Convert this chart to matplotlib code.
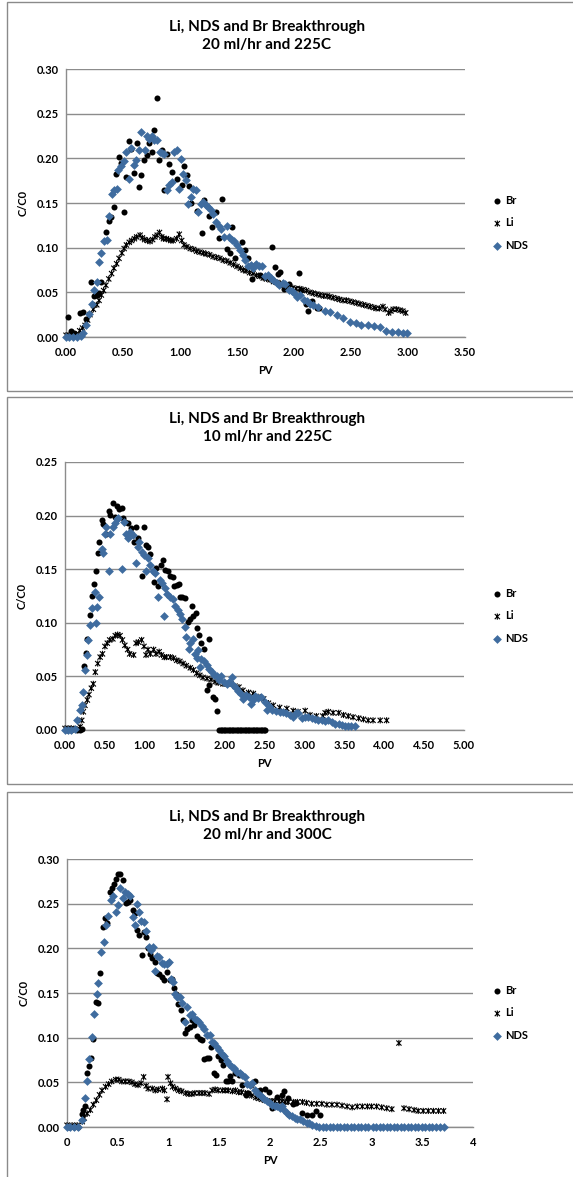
import matplotlib
matplotlib.use("Agg")
import numpy as np
from matplotlib import pyplot as plt
from matplotlib.path import Path
from matplotlib.patches import Rectangle
from matplotlib.ticker import FormatStrFormatter, FuncFormatter

# ---- panel 1: 20 ml/hr and 225C ----
br1_pv = [0.02, 0.044, 0.07, 0.09, 0.12, 0.146, 0.175, 0.216, 0.245, 0.27, 0.287, 0.307, 0.35, 0.38,
          0.392, 0.418, 0.44, 0.462, 0.48, 0.506, 0.526, 0.55, 0.567, 0.596, 0.62, 0.64, 0.66, 0.687,
          0.71, 0.73, 0.754, 0.775, 0.795, 0.82, 0.84, 0.86, 0.883, 0.904, 0.927, 0.97, 1.015, 1.035,
          1.064, 1.08, 1.10, 1.146, 1.19, 1.21, 1.257, 1.28, 1.32, 1.342, 1.368, 1.415, 1.44, 1.46,
          1.48, 1.547, 1.573, 1.60, 1.635, 1.66, 1.70, 1.81, 1.83, 1.857, 1.88, 1.91, 1.96, 2.04, 2.06,
          2.105, 2.127, 2.16, 2.20, 2.22]
br1_c = [0.022, 0.007, 0.004, 0.002, 0.027, 0.028, 0.020, 0.062, 0.046, 0.047, 0.049, 0.062, 0.118,
         0.130, 0.134, 0.146, 0.183, 0.202, 0.195, 0.140, 0.179, 0.219, 0.210, 0.184, 0.217, 0.168,
         0.181, 0.198, 0.204, 0.217, 0.207, 0.232, 0.267, 0.198, 0.209, 0.165, 0.205, 0.194, 0.185,
         0.177, 0.170, 0.191, 0.181, 0.169, 0.150, 0.141, 0.116, 0.153, 0.135, 0.123, 0.140, 0.111,
         0.154, 0.098, 0.094, 0.123, 0.088, 0.106, 0.097, 0.088, 0.065, 0.081, 0.069, 0.101, 0.078,
         0.071, 0.073, 0.054, 0.059, 0.072, 0.053, 0.037, 0.029, 0.040, 0.032, 0.032]
li1_pv = [0.0, 0.03, 0.06, 0.09, 0.12, 0.145, 0.167, 0.19, 0.21, 0.24, 0.27, 0.29, 0.31, 0.33, 0.35,
          0.375, 0.40, 0.42, 0.444, 0.465, 0.49, 0.51, 0.53, 0.555, 0.576, 0.60, 0.62, 0.65, 0.67, 0.69,
          0.715, 0.737, 0.76, 0.78, 0.80, 0.82, 0.84, 0.855, 0.88, 0.90, 0.92, 0.94, 0.97, 0.994, 1.015,
          1.035, 1.06, 1.09, 1.12, 1.146, 1.175, 1.205, 1.23, 1.26, 1.29, 1.32, 1.35, 1.38, 1.41, 1.44,
          1.47, 1.50, 1.53, 1.555, 1.58, 1.61, 1.64, 1.67, 1.70, 1.73, 1.76, 1.79, 1.82, 1.85, 1.88,
          1.91, 1.935, 1.96, 1.99, 2.02, 2.05, 2.08, 2.11, 2.14, 2.17, 2.20, 2.23, 2.26, 2.29, 2.315,
          2.345, 2.375, 2.40, 2.43, 2.46, 2.49, 2.52, 2.55, 2.58, 2.61, 2.64, 2.67, 2.70, 2.72, 2.75,
          2.78, 2.80, 2.83, 2.85, 2.87, 2.90, 2.93, 2.955, 2.98]
li1_c = [0.002, 0.002, 0.002, 0.003, 0.007, 0.010, 0.013, 0.019, 0.025, 0.031, 0.036, 0.041, 0.047,
         0.052, 0.058, 0.065, 0.071, 0.077, 0.082, 0.088, 0.094, 0.099, 0.103, 0.106, 0.108, 0.110,
         0.112, 0.114, 0.111, 0.109, 0.108, 0.107, 0.109, 0.112, 0.114, 0.117, 0.112, 0.110, 0.110,
         0.109, 0.108, 0.108, 0.110, 0.115, 0.108, 0.103, 0.101, 0.099, 0.098, 0.096, 0.095, 0.094,
         0.093, 0.092, 0.090, 0.089, 0.088, 0.086, 0.085, 0.083, 0.081, 0.079, 0.077, 0.075, 0.074,
         0.072, 0.071, 0.069, 0.068, 0.066, 0.065, 0.064, 0.062, 0.061, 0.060, 0.058, 0.057, 0.056,
         0.055, 0.054, 0.054, 0.053, 0.052, 0.050, 0.049, 0.048, 0.047, 0.046, 0.046, 0.045, 0.044,
         0.043, 0.042, 0.041, 0.041, 0.040, 0.039, 0.038, 0.037, 0.036, 0.035, 0.034, 0.033, 0.032,
         0.032, 0.034, 0.031, 0.027, 0.029, 0.031, 0.031, 0.030, 0.029, 0.027]
nds1_pv = [0.0, 0.03, 0.06, 0.10, 0.13, 0.15, 0.175, 0.20, 0.225, 0.245, 0.27, 0.287, 0.31, 0.335, 0.357,
           0.377, 0.40, 0.42, 0.444, 0.46, 0.48, 0.51, 0.526, 0.55, 0.57, 0.596, 0.614, 0.64, 0.66, 0.69,
           0.708, 0.73, 0.754, 0.775, 0.795, 0.825, 0.845, 0.863, 0.883, 0.904, 0.927, 0.947, 0.97,
           0.99, 1.01, 1.03, 1.05, 1.073, 1.094, 1.117, 1.137, 1.16, 1.18, 1.20, 1.225, 1.248, 1.27,
           1.29, 1.32, 1.34, 1.36, 1.386, 1.41, 1.43, 1.453, 1.476, 1.50, 1.526, 1.55, 1.57, 1.596,
           1.62, 1.64, 1.67, 1.695, 1.72, 1.746, 1.77, 1.794, 1.82, 1.85, 1.87, 1.90, 1.925, 1.955,
           1.98, 2.00, 2.03, 2.055, 2.085, 2.11, 2.14, 2.17, 2.21, 2.27, 2.32, 2.38, 2.43, 2.49, 2.54,
           2.59, 2.65, 2.70, 2.75, 2.81, 2.86, 2.91, 2.96, 2.99]
nds1_c = [0.0, 0.0, 0.0, 0.0, 0.001, 0.004, 0.013, 0.026, 0.037, 0.053, 0.062, 0.084, 0.094, 0.107,
          0.109, 0.135, 0.160, 0.165, 0.166, 0.187, 0.191, 0.197, 0.207, 0.177, 0.212, 0.193, 0.198,
          0.209, 0.229, 0.209, 0.225, 0.222, 0.225, 0.221, 0.220, 0.207, 0.206, 0.205, 0.164, 0.170,
          0.174, 0.207, 0.209, 0.166, 0.199, 0.183, 0.176, 0.149, 0.157, 0.166, 0.165, 0.140, 0.149,
          0.151, 0.148, 0.146, 0.142, 0.138, 0.129, 0.124, 0.121, 0.112, 0.124, 0.112, 0.109, 0.107,
          0.103, 0.097, 0.092, 0.086, 0.079, 0.081, 0.077, 0.082, 0.079, 0.079, 0.068, 0.069, 0.066,
          0.064, 0.060, 0.058, 0.061, 0.059, 0.053, 0.051, 0.049, 0.045, 0.047, 0.041, 0.040, 0.037,
          0.036, 0.034, 0.029, 0.028, 0.025, 0.021, 0.017, 0.016, 0.013, 0.013, 0.012, 0.011, 0.007,
          0.006, 0.006, 0.005, 0.004]

# ---- panel 2: 10 ml/hr and 225C ----
br2_pv = [0.02, 0.08, 0.15, 0.19, 0.21, 0.24, 0.26, 0.28, 0.31, 0.34, 0.36, 0.39, 0.41, 0.43, 0.46,
          0.48, 0.51, 0.55, 0.56, 0.60, 0.63, 0.65, 0.68, 0.71, 0.73, 0.75, 0.79, 0.83, 0.86, 0.89,
          0.92, 0.96, 0.99, 1.02, 1.04, 1.07, 1.11, 1.14, 1.17, 1.20, 1.23, 1.25, 1.29, 1.32, 1.35,
          1.37, 1.40, 1.43, 1.44, 1.47, 1.50, 1.54, 1.57, 1.59, 1.61, 1.64, 1.66, 1.68, 1.71, 1.74,
          1.78, 1.80, 1.81, 1.86, 1.88, 1.91,
          1.93, 1.95, 1.97, 1.99, 2.01, 2.03, 2.05, 2.07, 2.09, 2.11, 2.13, 2.15, 2.17, 2.19, 2.21,
          2.23, 2.25, 2.27, 2.29, 2.31, 2.33, 2.35, 2.37, 2.39, 2.41, 2.43, 2.45, 2.47, 2.49, 2.51]
br2_c = [0.0, 0.0, 0.0, 0.0, 0.001, 0.060, 0.072, 0.085, 0.107, 0.125, 0.136, 0.148, 0.165, 0.175,
         0.196, 0.192, 0.183, 0.204, 0.201, 0.212, 0.199, 0.209, 0.206, 0.207, 0.198, 0.194, 0.193,
         0.188, 0.175, 0.189, 0.179, 0.144, 0.189, 0.173, 0.171, 0.164, 0.138, 0.151, 0.134, 0.154,
         0.159, 0.149, 0.148, 0.144, 0.143, 0.134, 0.135, 0.136, 0.124, 0.124, 0.123, 0.101, 0.104,
         0.116, 0.106, 0.109, 0.095, 0.089, 0.081, 0.076, 0.037, 0.042, 0.085, 0.031, 0.029, 0.018,
         0.0, 0.0, 0.0, 0.0, 0.0, 0.0, 0.0, 0.0, 0.0, 0.0, 0.0, 0.0, 0.0, 0.0, 0.0,
         0.0, 0.0, 0.0, 0.0, 0.0, 0.0, 0.0, 0.0, 0.0, 0.0, 0.0, 0.0, 0.0, 0.0, 0.0]
li2_pv = [0.0, 0.04, 0.08, 0.12, 0.15, 0.19, 0.21, 0.23, 0.25, 0.28, 0.30, 0.33, 0.355, 0.38, 0.41,
          0.44, 0.47, 0.50, 0.53, 0.56, 0.60, 0.63, 0.66, 0.69, 0.72, 0.75, 0.785, 0.81, 0.86, 0.89,
          0.92, 0.96, 0.99, 1.015, 1.04, 1.07, 1.11, 1.14, 1.18, 1.21, 1.245, 1.27, 1.32, 1.36, 1.40,
          1.44, 1.48, 1.52, 1.57, 1.61, 1.65, 1.69, 1.73, 1.78, 1.83, 1.88, 1.92, 1.98, 2.03, 2.08,
          2.13, 2.18, 2.23, 2.30, 2.36, 2.42, 2.49, 2.55, 2.61, 2.69, 2.78, 2.86, 2.92, 3.01, 3.07,
          3.15, 3.23, 3.26, 3.30, 3.36, 3.43, 3.49, 3.55, 3.61, 3.68, 3.74, 3.80, 3.86, 3.95, 4.03]
li2_c = [0.0015, 0.0015, 0.0015, 0.001, 0.0006, 0.003, 0.009, 0.017, 0.023, 0.028, 0.033, 0.039,
         0.043, 0.054, 0.062, 0.068, 0.071, 0.078, 0.081, 0.084, 0.085, 0.088, 0.089, 0.088, 0.084,
         0.079, 0.075, 0.071, 0.070, 0.081, 0.082, 0.084, 0.078, 0.070, 0.075, 0.071, 0.075, 0.071,
         0.073, 0.070, 0.068, 0.068, 0.068, 0.067, 0.065, 0.064, 0.062, 0.060, 0.058, 0.056, 0.053,
         0.051, 0.049, 0.048, 0.047, 0.045, 0.044, 0.043, 0.043, 0.043, 0.041, 0.040, 0.037, 0.035,
         0.034, 0.031, 0.029, 0.025, 0.023, 0.021, 0.020, 0.018, 0.017, 0.018, 0.014, 0.013, 0.013,
         0.016, 0.017, 0.016, 0.016, 0.014, 0.013, 0.012, 0.011, 0.010, 0.009, 0.009, 0.009, 0.009]
nds2_pv = [0.0, 0.04, 0.08, 0.13, 0.155, 0.19, 0.21, 0.23, 0.25, 0.27, 0.29, 0.31, 0.34, 0.37, 0.39,
           0.405, 0.43, 0.46, 0.48, 0.50, 0.52, 0.55, 0.57, 0.60, 0.63, 0.65, 0.67, 0.71, 0.74, 0.76,
           0.79, 0.82, 0.85, 0.89, 0.91, 0.93, 0.96, 0.99, 1.015, 1.04, 1.07, 1.10, 1.13, 1.16, 1.19,
           1.21, 1.24, 1.25, 1.28, 1.32, 1.35, 1.38, 1.41, 1.44, 1.47, 1.50, 1.52, 1.55, 1.57, 1.60,
           1.63, 1.65, 1.67, 1.69, 1.71, 1.74, 1.78, 1.81, 1.84, 1.87, 1.90, 1.93, 1.96, 1.99, 2.03,
           2.06, 2.09, 2.11, 2.14, 2.17, 2.20, 2.23, 2.27, 2.30, 2.33, 2.35, 2.38, 2.42, 2.46, 2.50,
           2.53, 2.56, 2.60, 2.64, 2.69, 2.73, 2.77, 2.82, 2.86, 2.89, 2.92, 2.97, 3.01, 3.05, 3.09,
           3.13, 3.17, 3.22, 3.26, 3.30, 3.34, 3.38, 3.43, 3.47, 3.51, 3.55, 3.59, 3.63]
nds2_c = [0.0, 0.0, 0.0, 0.0006, 0.009, 0.019, 0.023, 0.035, 0.056, 0.070, 0.084, 0.098, 0.114,
          0.129, 0.100, 0.115, 0.124, 0.169, 0.165, 0.183, 0.189, 0.148, 0.183, 0.189, 0.193, 0.197,
          0.198, 0.150, 0.194, 0.183, 0.179, 0.185, 0.182, 0.156, 0.171, 0.175, 0.166, 0.163, 0.148,
          0.160, 0.154, 0.148, 0.146, 0.124, 0.140, 0.137, 0.106, 0.132, 0.127, 0.124, 0.122, 0.116,
          0.112, 0.108, 0.104, 0.096, 0.087, 0.076, 0.081, 0.085, 0.071, 0.067, 0.075, 0.059, 0.066,
          0.064, 0.061, 0.057, 0.054, 0.051, 0.050, 0.047, 0.050, 0.045, 0.043, 0.045, 0.049, 0.042,
          0.039, 0.036, 0.034, 0.029, 0.033, 0.031, 0.024, 0.028, 0.032, 0.030, 0.031, 0.026, 0.019,
          0.022, 0.019, 0.018, 0.017, 0.017, 0.016, 0.014, 0.012, 0.016, 0.016, 0.011, 0.012, 0.012,
          0.011, 0.010, 0.009, 0.009, 0.008, 0.009, 0.007, 0.006, 0.006, 0.005, 0.004, 0.004, 0.004,
          0.004]

# ---- panel 3: 20 ml/hr and 300C ----
br3_pv = [0.02, 0.07, 0.11, 0.15, 0.16, 0.18, 0.20, 0.22, 0.24, 0.26, 0.29, 0.31, 0.33, 0.35, 0.37,
          0.39, 0.42, 0.44, 0.46, 0.48, 0.50, 0.525, 0.55, 0.58, 0.60, 0.62, 0.65, 0.67, 0.69, 0.71,
          0.74, 0.76, 0.78, 0.80, 0.82, 0.84, 0.87, 0.89, 0.91, 0.94, 0.96, 0.985, 1.01, 1.03, 1.05,
          1.07, 1.09, 1.12, 1.14, 1.16, 1.18, 1.21, 1.23, 1.25, 1.28, 1.31, 1.33, 1.35, 1.38, 1.40,
          1.42, 1.45, 1.47, 1.49, 1.52, 1.54, 1.57, 1.59, 1.61, 1.63, 1.66, 1.69, 1.72, 1.76, 1.78,
          1.81, 1.85, 1.87, 1.90, 1.95, 1.99, 2.02, 2.07, 2.12, 2.14, 2.18, 2.23, 2.26, 2.32, 2.36,
          2.41, 2.45, 2.49]
br3_c = [0.0, 0.0, 0.0, 0.015, 0.019, 0.023, 0.061, 0.068, 0.077, 0.099, 0.140, 0.139, 0.172, 0.224,
         0.234, 0.228, 0.263, 0.268, 0.272, 0.278, 0.283, 0.283, 0.277, 0.251, 0.252, 0.254, 0.243,
         0.240, 0.220, 0.215, 0.192, 0.218, 0.213, 0.200, 0.194, 0.189, 0.185, 0.172, 0.171, 0.168,
         0.165, 0.174, 0.164, 0.166, 0.156, 0.149, 0.138, 0.131, 0.120, 0.105, 0.110, 0.112, 0.120,
         0.114, 0.102, 0.099, 0.097, 0.076, 0.077, 0.077, 0.090, 0.060, 0.058, 0.079, 0.075, 0.069,
         0.051, 0.052, 0.057, 0.052, 0.061, 0.058, 0.047, 0.036, 0.038, 0.047, 0.051, 0.040, 0.041,
         0.042, 0.039, 0.021, 0.034, 0.036, 0.040, 0.032, 0.026, 0.027, 0.016, 0.013, 0.013, 0.018,
         0.013]
li3_pv = [0.0, 0.05, 0.10, 0.15, 0.17, 0.20, 0.23, 0.26, 0.29, 0.32, 0.345, 0.38, 0.41, 0.44, 0.48,
          0.51, 0.54, 0.575, 0.61, 0.64, 0.67, 0.70, 0.73, 0.755, 0.78, 0.80, 0.84, 0.87, 0.90, 0.94,
          0.96, 0.985, 0.995, 1.02, 1.04, 1.07, 1.10, 1.13, 1.17, 1.20, 1.23, 1.26, 1.30, 1.33, 1.36,
          1.40, 1.43, 1.46, 1.49, 1.53, 1.56, 1.59, 1.63, 1.66, 1.69, 1.72, 1.76, 1.79, 1.82, 1.86,
          1.89, 1.92, 1.95, 1.99, 2.02, 2.05, 2.09, 2.12, 2.15, 2.18, 2.23, 2.27, 2.32, 2.36, 2.41,
          2.46, 2.51, 2.56, 2.61, 2.66, 2.71, 2.76, 2.81, 2.86, 2.91, 2.96, 3.00, 3.05, 3.10, 3.15,
          3.20, 3.27, 3.32, 3.37, 3.42, 3.46, 3.51, 3.56, 3.61, 3.66, 3.71]
li3_c = [0.002, 0.002, 0.002, 0.006, 0.010, 0.015, 0.019, 0.025, 0.030, 0.036, 0.041, 0.045, 0.048,
         0.051, 0.053, 0.053, 0.051, 0.051, 0.051, 0.050, 0.048, 0.047, 0.049, 0.056, 0.046, 0.043,
         0.043, 0.041, 0.042, 0.043, 0.041, 0.031, 0.056, 0.049, 0.045, 0.043, 0.041, 0.040, 0.038,
         0.037, 0.037, 0.038, 0.038, 0.038, 0.038, 0.037, 0.041, 0.042, 0.041, 0.041, 0.041, 0.041,
         0.040, 0.041, 0.039, 0.039, 0.038, 0.037, 0.035, 0.033, 0.032, 0.031, 0.030, 0.029, 0.029,
         0.029, 0.029, 0.029, 0.028, 0.028, 0.028, 0.028, 0.028, 0.027, 0.026, 0.026, 0.026, 0.025,
         0.025, 0.025, 0.024, 0.023, 0.022, 0.023, 0.023, 0.023, 0.023, 0.023, 0.022, 0.021, 0.020,
         0.094, 0.021, 0.020, 0.019, 0.018, 0.018, 0.018, 0.018, 0.018, 0.018]
nds3_pv = [0.0, 0.03, 0.07, 0.11, 0.15, 0.18, 0.20, 0.22, 0.25, 0.27, 0.30, 0.31, 0.335, 0.36, 0.385,
           0.40, 0.43, 0.45, 0.48, 0.50, 0.525, 0.55, 0.575, 0.60, 0.62, 0.65, 0.67, 0.69, 0.71, 0.73,
           0.755, 0.78, 0.805, 0.83, 0.85, 0.87, 0.89, 0.91, 0.94, 0.96, 0.985, 1.00, 1.02, 1.04, 1.06,
           1.08, 1.11, 1.13, 1.16, 1.18, 1.21, 1.23, 1.26, 1.28, 1.30, 1.33, 1.35, 1.38, 1.41, 1.43,
           1.45, 1.48, 1.50, 1.53, 1.55, 1.58, 1.60, 1.63, 1.65, 1.67, 1.70, 1.72, 1.75, 1.77, 1.80,
           1.82, 1.85, 1.87, 1.90, 1.92, 1.94, 1.97, 2.00, 2.02, 2.05, 2.07, 2.10, 2.12, 2.14, 2.17,
           2.19, 2.22, 2.25, 2.27, 2.30, 2.33, 2.36, 2.38, 2.41, 2.45,
           2.48, 2.52, 2.55, 2.59, 2.62, 2.66, 2.69, 2.73, 2.76, 2.80, 2.83, 2.87, 2.90, 2.94, 2.97,
           3.01, 3.04, 3.08, 3.11, 3.15, 3.18, 3.22, 3.25, 3.29, 3.32, 3.36, 3.39, 3.43, 3.46, 3.50,
           3.53, 3.57, 3.60, 3.64, 3.67, 3.71]
nds3_c = [0.0, 0.0, 0.0, 0.0, 0.008, 0.032, 0.051, 0.076, 0.101, 0.127, 0.149, 0.161, 0.196, 0.207,
          0.226, 0.236, 0.254, 0.259, 0.241, 0.249, 0.267, 0.256, 0.263, 0.261, 0.259, 0.235, 0.226,
          0.250, 0.241, 0.231, 0.229, 0.219, 0.202, 0.198, 0.201, 0.175, 0.191, 0.190, 0.184, 0.183,
          0.183, 0.185, 0.166, 0.162, 0.149, 0.146, 0.146, 0.139, 0.118, 0.134, 0.125, 0.127, 0.121,
          0.120, 0.117, 0.113, 0.110, 0.103, 0.103, 0.095, 0.094, 0.090, 0.086, 0.082, 0.079, 0.074,
          0.071, 0.067, 0.066, 0.062, 0.060, 0.058, 0.056, 0.048, 0.047, 0.049, 0.041, 0.038, 0.036,
          0.034, 0.031, 0.029, 0.027, 0.025, 0.024, 0.023, 0.021, 0.023, 0.019, 0.016, 0.013, 0.012,
          0.010, 0.009, 0.009, 0.007, 0.005, 0.004, 0.002, 0.001,
          0.0, 0.0, 0.0, 0.0, 0.0, 0.0, 0.0, 0.0, 0.0, 0.0, 0.0, 0.0, 0.0, 0.0, 0.0,
          0.0, 0.0, 0.0, 0.0, 0.0, 0.0, 0.0, 0.0, 0.0, 0.0, 0.0, 0.0, 0.0, 0.0, 0.0,
          0.0, 0.0, 0.0, 0.0, 0.0, 0.0]

titles = ["Li, NDS and Br Breakthrough\n20 ml/hr and 225C",
          "Li, NDS and Br Breakthrough\n10 ml/hr and 225C",
          "Li, NDS and Br Breakthrough\n20 ml/hr and 300C"]
series_names = ["Br", "Li", "NDS"]

# Excel-like "star" marker: an X with a vertical bar through it
star = Path([(-1, -1), (1, 1), (-1, 1), (1, -1), (0, -1.2), (0, 1.2)],
            [Path.MOVETO, Path.LINETO, Path.MOVETO, Path.LINETO, Path.MOVETO, Path.LINETO])

W, H = 573, 1177
plt.rcParams["font.family"] = ["Lato", "DejaVu Sans"]
plt.rcParams["font.weight"] = "bold"
fig = plt.figure(figsize=(W / 100, H / 100), dpi=100, facecolor="white")

grid_col = "#8c8c8c"
blue = "#3f6c9f"

# frames around each chart, in pixels (left, top, right, bottom)
frames = [(7, 2, 580, 391), (7, 397, 580, 784), (7, 792, 580, 1185)]
for l, t, r, b in frames:
    fig.patches.append(Rectangle((l / W, 1 - b / H), (r - l) / W, (b - t) / H,
                                 transform=fig.transFigure, fill=False,
                                 edgecolor="#8a8a8a", linewidth=1.0))

# axes boxes in pixels (left, top, right, bottom)
boxes = [(66, 69, 465, 337), (65, 462, 464, 730), (67, 859, 473, 1127)]
title_y = [20, 412, 810]
xlims = [(0, 3.5), (0, 5.0), (0, 4.0)]
ylims = [(0, 0.30), (0, 0.25), (0, 0.30)]
legend_y = [223, 616, 1013]
data = [(br1_pv, br1_c, li1_pv, li1_c, nds1_pv, nds1_c),
        (br2_pv, br2_c, li2_pv, li2_c, nds2_pv, nds2_c),
        (br3_pv, br3_c, li3_pv, li3_c, nds3_pv, nds3_c)]

for i, (l, t, r, b) in enumerate(boxes):
    ax = fig.add_axes([l / W, 1 - b / H, (r - l) / W, (b - t) / H])
    brx, bry, lix, liy, ndx, ndy = data[i]
    h_br = ax.scatter(brx, bry, s=19, marker="o", color="black", linewidths=0, zorder=3, clip_on=False)
    h_li = ax.scatter(lix, liy, s=20, marker=star, facecolor="none", edgecolor="black",
                      linewidths=0.8, zorder=4, clip_on=False)
    h_nd = ax.scatter(ndx, ndy, s=20, marker="D", color=blue, linewidths=0, zorder=5, clip_on=False)

    ax.set_xlim(*xlims[i])
    ax.set_ylim(*ylims[i])
    ax.set_xticks(np.arange(xlims[i][0], xlims[i][1] + 0.01, 0.5))
    ax.set_yticks(np.arange(0, ylims[i][1] + 0.001, 0.05))
    ax.yaxis.set_major_formatter(FormatStrFormatter("%.2f"))
    if i < 2:
        ax.xaxis.set_major_formatter(FormatStrFormatter("%.2f"))
    else:
        ax.xaxis.set_major_formatter(FuncFormatter(lambda v, p: f"{v:g}"))
    ax.tick_params(length=0, labelsize=8, pad=5, colors="black")
    ax.tick_params(axis="x", pad=7)
    for lbl in ax.get_xticklabels() + ax.get_yticklabels():
        lbl.set_fontweight("bold")
    ax.grid(axis="y", color=grid_col, linewidth=1.0)
    ax.set_axisbelow(True)
    for side in ("top", "right"):
        ax.spines[side].set_visible(False)
    for side in ("left", "bottom"):
        ax.spines[side].set_color(grid_col)
        ax.spines[side].set_linewidth(1.0)
    ax.set_xlabel("PV", fontsize=8, fontweight="bold", labelpad=5)
    ax.set_ylabel("C/C0", fontsize=8, fontweight="bold", labelpad=6)

    fig.text(267 / W, 1 - title_y[i] / H, titles[i], ha="center", va="top",
             fontsize=11, fontweight="bold", linespacing=1.35)

    leg = ax.legend([h_br, h_li, h_nd], series_names, loc="center left",
                    bbox_to_anchor=(484 / W, 1 - legend_y[i] / H),
                    bbox_transform=fig.transFigure, frameon=False,
                    prop={"size": 8, "weight": "bold"},
                    handletextpad=0.0, labelspacing=1.0, handlelength=1.4,
                    borderpad=0, scatterpoints=1)

fig.savefig("out.png", dpi=100, facecolor="white")
